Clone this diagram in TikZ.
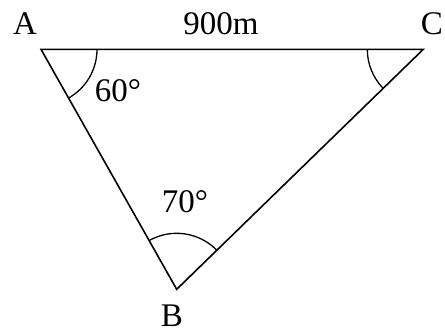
\documentclass[tikz,border=0pt]{standalone}
\usepackage{fontspec}
\setmainfont{Liberation Serif}
\usepackage{tikz}
\usetikzlibrary{angles}

\begin{document}
\begin{tikzpicture}[x=1pt, y=1pt,
      side/.style={line width=1.6pt, line join=miter},
      angarc/.style={draw, line width=1.3pt, angle radius=56pt},
      vlbl/.style={font=\fontsize{33}{38}\selectfont, inner sep=0pt}
    ]
    \useasboundingbox (0,0) rectangle (445,333);

    % Vertices
    \coordinate (A) at (41, 283.7);
    \coordinate (C) at (423.3, 283.7);
    \coordinate (B) at (176.7, 43.7);

    % Triangle
    \draw[side] (A) -- (C) -- (B) -- cycle;

    % Angle marks
    \pic[angarc] {angle = B--A--C};
    \pic[angarc] {angle = A--C--B};
    \pic[angarc] {angle = C--B--A};

    % Labels
    \node[vlbl] (lblA) at (25, 309) {A};
    \node[vlbl] (lblC) at (432, 309) {C};
    \node[vlbl] (lblB) at (172, 17) {B};
    \node[vlbl] (lblAC) at (221, 309) {900m};
    \node[vlbl] (angA) at (118, 242) {60°};
    \node[vlbl] (angB) at (185, 131) {70°};
\end{tikzpicture}
\end{document}
